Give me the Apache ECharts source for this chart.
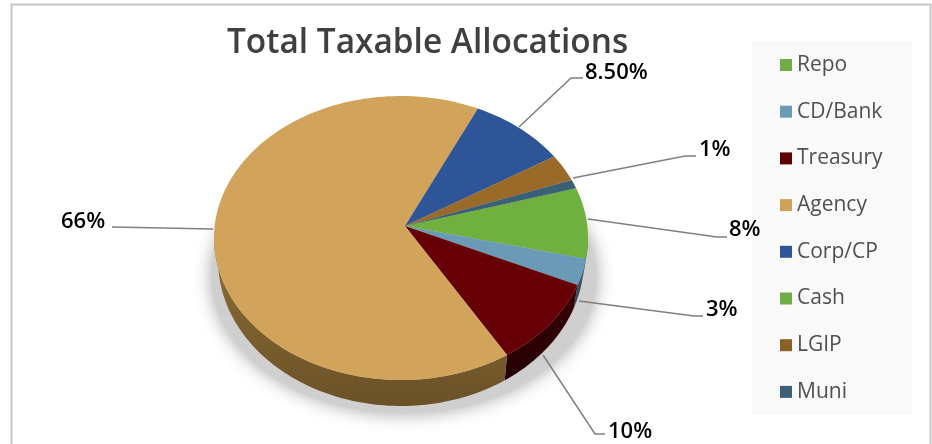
<!DOCTYPE html>
<html>
<head>
<meta charset="utf-8">
<style>html,body{margin:0;padding:0;background:#fff}#main{width:932px;height:444px}</style>
<script src="https://cdn.jsdelivr.net/npm/echarts@6/dist/echarts.min.js"></script>
</head>
<body>
<div id="main"></div>
<script>
// Portfolio shares, in legend order (percent).
const categories = ['Repo', 'CD/Bank', 'Treasury', 'Agency', 'Corp/CP', 'Cash', 'LGIP', 'Muni'];
const shares = [8, 3, 10, 66, 8.5, 0, 3, 1];
const valueLabels = ['8%', '3%', '10%', '66%', '8.50%', '', '', '1%'];

const topColors = ['#6fb03f', '#6a9ab5', '#660006', '#d2a45b', '#2e5597', '#6fb03f', '#9a6a28', '#3b5f74'];
const sideLight = ['#4a7a2a', '#3e5f72', '#3a0005', '#8f6f37', '#1d3660', '#4a7a2a', '#60431a', '#263e4c'];
const sideDark = ['#3c6422', '#2e4858', '#240003', '#6a5126', '#16294a', '#3c6422', '#4a3314', '#1c2f3a'];
const swatchColors = ['#70ad47', '#6b9bb6', '#5c0000', '#cfa25a', '#2f5597', '#70ad47', '#8a6229', '#3c5f74'];

// Tilted-disc geometry: upper rim, lower rim (slightly narrower through perspective) and apex.
const rimTop = { cx: 401, cy: 238, rx: 187, ry: 142 };
const rimLow = { cx: 401, cy: 260, rx: 183, ry: 146 };
const rimShadow = { cx: 404, cy: 277, rx: 192, ry: 136 };
const apex = [405, 226];
const startDeg = 69.5;
const total = shares.reduce((a, b) => a + b, 0);

// Leader line and label placement per slice.
const callouts = [
  { line: [[588, 219], [717, 237], [727, 237]], x: 729, y: 229 },
  { line: [[579, 301], [694, 316], [703, 316]], x: 706, y: 309 },
  { line: [[543, 355], [595, 434], [605, 434]], x: 608, y: 431 },
  { line: [[213, 229], [112, 227]], x: 61, y: 221 },
  { line: [[519, 127], [571, 78], [583, 78]], x: 585, y: 72 },
  null,
  null,
  { line: [[573, 178], [685, 156], [696, 156]], x: 699, y: 149 }
];

const rad = d => d * Math.PI / 180;
const rimPoint = (rim, deg) => [
  rim.cx + rim.rx * Math.sin(rad(deg)),
  rim.cy - rim.ry * Math.cos(rad(deg))
];
function arcPoints(rim, a0, a1) {
  const pts = [];
  const n = Math.max(2, Math.ceil((a1 - a0) / 1.5));
  for (let i = 0; i <= n; i++) pts.push(rimPoint(rim, a0 + (a1 - a0) * i / n));
  return pts;
}

// Clockwise angle from 12 o'clock where slice i begins.
function sliceStart(i) {
  let sum = 0;
  for (let k = 0; k < i; k++) sum += shares[k];
  return startDeg + sum / total * 360;
}

function renderSlice(i, api) {
  const value = api.value(0);
  const children = [];
  const a0 = sliceStart(i);
  const a1 = a0 + value / total * 360;
  if (value > 0) {
    // Visible rim wall: the front half of the disc only.
    const w0 = Math.max(a0, 90), w1 = Math.min(a1, 270);
    if (w1 > w0) {
      const wall = arcPoints(rimTop, w0, w1).concat(arcPoints(rimLow, w0, w1).reverse());
      children.push({
        type: 'polygon', z2: 1, shape: { points: wall },
        style: {
          fill: { type: 'linear', x: 0, y: 0, x2: 0, y2: 1, colorStops: [
            { offset: 0, color: sideLight[i] }, { offset: 1, color: sideDark[i] }
          ] }
        }
      });
    }
    const face = [apex].concat(arcPoints(rimTop, a0, a1));
    children.push({ type: 'polygon', z2: 2, shape: { points: face }, style: { fill: topColors[i] } });
  }
  const c = callouts[i];
  if (c) {
    children.push({
      type: 'polyline', z2: 3, shape: { points: c.line },
      style: { stroke: '#7f7f7f', lineWidth: 1.5, fill: null }
    });
    children.push({
      type: 'text', z2: 4,
      style: {
        x: c.x, y: c.y + 1, text: valueLabels[i], fill: '#000',
        fontFamily: 'Open Sans', fontSize: 22, fontWeight: 600,
        align: 'left', verticalAlign: 'middle'
      }
    });
  }
  return { type: 'group', children };
}

const sliceSeries = categories.map((name, i) => ({
  type: 'custom', name, coordinateSystem: 'none', z: 4, silent: true,
  itemStyle: { color: swatchColors[i] },
  data: [[shares[i]]],
  renderItem: (params, api) => renderSlice(i, api)
}));

// Soft drop shadow beneath the disc.
const shadowSeries = {
  type: 'custom', name: 'shadow', coordinateSystem: 'none', z: 3, silent: true,
  data: [[1]],
  renderItem: () => ({
    type: 'polygon',
    shape: { points: arcPoints(rimShadow, 0, 360) },
    style: { fill: '#cfcfcf', shadowBlur: 18, shadowColor: 'rgba(150,150,150,0.9)' }
  })
};

const chart = echarts.init(document.getElementById('main'), null, { renderer: 'canvas' });
chart.setOption({
  animation: false,
  backgroundColor: '#ffffff',
  title: {
    text: 'Total Taxable Allocations', left: 227, top: 27, padding: 0, z: 6,
    textStyle: { fontFamily: 'Open Sans', fontSize: 33.4, fontWeight: 600, color: '#404040' }
  },
  legend: {
    data: categories, orient: 'vertical', left: 780, top: 54, padding: 0, z: 6,
    icon: 'rect', itemWidth: 12, itemHeight: 12, itemGap: 24.7,
    textStyle: { fontFamily: 'Open Sans', fontSize: 21, color: '#505050', lineHeight: 22 }
  },
  graphic: [
    { type: 'rect', z: 0, shape: { x: 11.5, y: 4.5, width: 919, height: 470 }, style: { fill: '#fff', stroke: '#c8c8c8', lineWidth: 2 } },
    { type: 'rect', z: 1, shape: { x: 752, y: 42, width: 160, height: 373 }, style: { fill: '#f9f9f9' } }
  ],
  series: [shadowSeries].concat(sliceSeries)
});
</script>
</body>
</html>
